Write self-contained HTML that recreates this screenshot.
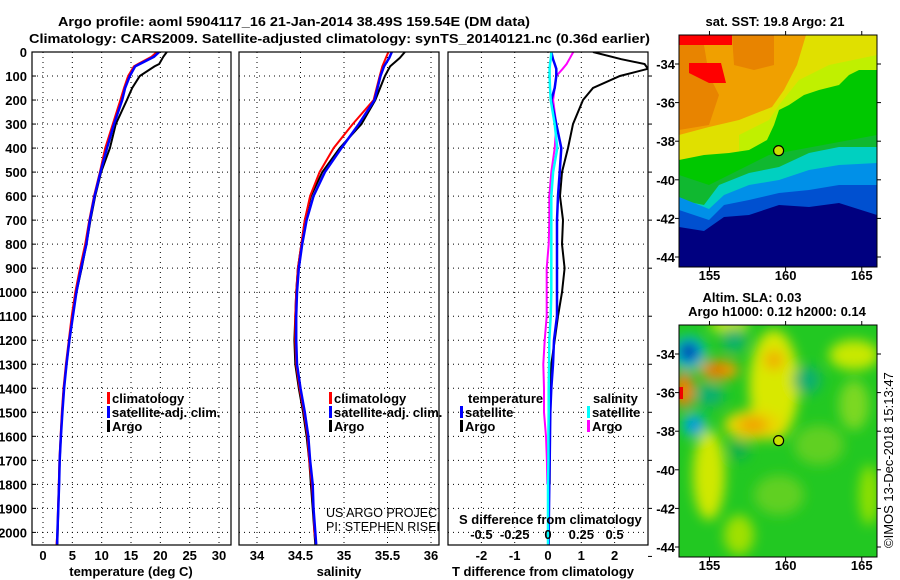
<!DOCTYPE html>
<html><head><meta charset="utf-8">
<style>
html,body{margin:0;padding:0;background:#fff;}
svg{display:block;font-family:"Liberation Sans",sans-serif;}
.b{font-weight:bold;font-size:13px;fill:#000;}
.grid{stroke:#000;stroke-width:1;stroke-dasharray:1,4;}
</style></head>
<body>
<svg id="chart" width="900" height="580" viewBox="0 0 900 580" xmlns="http://www.w3.org/2000/svg">
<rect width="900" height="580" fill="#fff"/>
<text class="b" x="58" y="26" font-size="15.5" textLength="472" lengthAdjust="spacingAndGlyphs">Argo profile: aoml 5904117_16 21-Jan-2014 38.49S 159.54E (DM data)</text>
<text class="b" x="29" y="43" font-size="15.5" textLength="621" lengthAdjust="spacingAndGlyphs">Climatology: CARS2009. Satellite-adjusted climatology: synTS_20140121.nc (0.36d earlier)</text>
<g id="panels"></g>
<g id="maps"></g>
<text x="893" y="548" font-size="13" transform="rotate(-90 893 548)" fill="#000">©IMOS 13-Dec-2018 15:13:47</text>
</svg>
<script>
// ---- data ----
const depthT = [0,20,50,60,100,150,200,300,400,500,600,700,800,900,1000,1100,1200,1300,1400,1500,1600,1700,1800,1900,2000,2050];
const tempClim = [19.4,18.5,16.2,15.5,14.5,13.8,13.2,11.9,10.6,9.7,8.7,7.9,7.2,6.3,5.5,4.9,4.4,3.9,3.5,3.2,3.0,2.8,2.7,2.55,2.45,2.3];
const tempSat  = [19.8,18.9,16.5,15.7,14.8,14.0,13.5,12.1,10.9,9.8,8.8,8.0,7.4,6.5,5.7,5.1,4.5,4.0,3.6,3.3,3.05,2.85,2.75,2.6,2.45,2.4];
const tempArgo = [21.1,20.5,19.8,19.0,16.5,15.2,14.3,12.4,11.4,9.9,8.9,8.1,7.4,6.6,5.7,5.0,4.5,4.0,3.55,3.25,3.05,2.85,2.75,2.6,2.5,2.45];
const salClim = [35.51,35.48,35.44,35.41,35.34,35.10,34.88,34.72,34.61,34.55,34.51,34.47,34.45,34.44,34.44,34.45,34.49,34.54,34.58,34.60,34.63,34.65,34.66,34.68];
const salSat  = [35.55,35.52,35.46,35.42,35.35,35.17,34.97,34.78,34.65,34.57,34.52,34.48,34.46,34.45,34.45,34.46,34.50,34.55,34.59,34.61,34.64,34.65,34.67,34.68];
const salArgo = [35.70,35.64,35.53,35.47,35.36,35.20,34.95,34.75,34.62,34.55,34.51,34.47,34.45,34.44,34.43,34.44,34.48,34.53,34.57,34.60,34.62,34.64,34.66,34.67];
const depthS = [0,25,60,100,200,300,400,500,600,700,800,900,1000,1100,1200,1300,1400,1500,1600,1700,1800,1900,2000,2050];
const depthD = [0,30,50,70,100,150,200,300,400,500,600,700,800,900,1000,1100,1200,1300,1400,1500,1600,1700,1800,1900,2000,2050];
const dTArgo = [1.35,2.2,2.9,3.0,2.16,1.35,1.05,0.75,0.6,0.42,0.36,0.45,0.42,0.5,0.42,0.3,0.2,0.1,0.05,0.05,0.05,0.05,0.05,null,null,null];
const dTSat  = [0.1,0.15,0.2,0.25,0.25,0.2,0.1,0.25,0.4,0.35,0.3,0.27,0.27,0.27,0.27,0.27,0.18,0.15,0.1,0.07,0.06,0.05,0.04,0.03,0.02,0.02];
const dSSat  = [0.025,0.02,0.015,0.012,0.012,0.015,0.02,0.05,0.07,0.038,0.025,0.025,0.025,0.025,0.025,0.02,0.01,0.008,0.005,0.005,0.003,0.003,0.0,0.0,0.0,0.0];
const dSArgo = [0.19,0.16,0.14,0.11,0.062,0.05,0.038,0.062,0.05,0.025,0.01,0.01,0.005,-0.01,-0.01,-0.01,-0.025,-0.035,-0.03,-0.03,-0.015,-0.008,-0.005,null,null,null];
const depthTicks = [0,100,200,300,400,500,600,700,800,900,1000,1100,1200,1300,1400,1500,1600,1700,1800,1900,2000];
const tempTicks = [0,5,10,15,20,25,30];
const salTicks = [34,34.5,35,35.5,36];
const salTickLabels = ["34","34.5","35","35.5","36"];
const dTTicks = [-2,-1,0,1,2];
const dSTicks = [-0.5,-0.25,0,0.25,0.5];
const dSTickLabels = ["-0.5","-0.25","0","0.25","0.5"];
const lonTicks = [155,160,165];
const latTicks = [-34,-36,-38,-40,-42,-44];
const argoLon = 159.54, argoLat = -38.49;

const NS = "http://www.w3.org/2000/svg";
function mk(tag, attrs, parent){const e=document.createElementNS(NS,tag);for(const k in attrs)e.setAttribute(k,attrs[k]);parent.appendChild(e);return e;}

const TOP=52, BOT=545;
function dy(d){return 52 + d*0.2402;}
function tx(t){return 43 + (t-0)*5.867;}
function sx(s){return 257 + (s-34)*87;}
function dx(v){return 548 + v*33.3;}
function dsx(v){return dx(v*4);}

const P = document.getElementById('panels');
const panels = [
 {name:'temperature-panel', x0:32, x1:231},
 {name:'salinity-panel', x0:239, x1:439},
 {name:'difference-panel', x0:448, x1:648}
];
panels.forEach((p,i)=>{
  const g = mk('g',{},P);
  
  
  const cp = mk('clipPath',{id:'cp'+i},g);
  mk('rect',{x:p.x0,y:TOP,width:p.x1-p.x0,height:BOT-TOP},cp);
  depthTicks.forEach(d=>{ if(d>0){const l=mk('line',{x1:p.x0,x2:p.x1,y1:dy(d),y2:dy(d),class:'grid'},g);
    
    }});
  p.g=g;
});
depthTicks.forEach(d=>{
  const t=mk('text',{x:27,y:dy(d)+5,'text-anchor':'end',class:'b'},P);
  
  
  t.textContent=d;
  mk('line',{x1:32,x2:36,y1:dy(d),y2:dy(d),stroke:'#000'},P);
});
function vgrid(g,xs){xs.forEach(x=>{const l=mk('line',{x1:x,x2:x,y1:TOP,y2:BOT,class:'grid'},g);
  
  });}
function xlabels(vals,labels,fx,y){vals.forEach((v,i)=>{const t=mk('text',{x:fx(v),y:y,'text-anchor':'middle',class:'b'},P);
  
  
  t.textContent=labels[i];});}
vgrid(panels[0].g, tempTicks.map(tx));
vgrid(panels[1].g, salTicks.map(sx));
vgrid(panels[2].g, dTTicks.map(dx));
xlabels(tempTicks,tempTicks.map(String),tx,560);
xlabels(salTicks,salTickLabels,sx,560);
xlabels(dTTicks,dTTicks.map(String),dx,560);

function line(g,vals,depths,fx,color,name,clip,w){
  let pts=[];
  vals.forEach((v,i)=>{ if(v!==null) pts.push(fx(v).toFixed(1)+','+dy(depths[i]).toFixed(1)); });
  const pl=mk('polyline',{points:pts.join(' '),fill:'none',stroke:color,'stroke-width':w||2,'clip-path':'url(#cp'+clip+')'},g);
  
  
}
const g0=panels[0].g,g1=panels[1].g,g2=panels[2].g;
line(g0,tempArgo,depthT,tx,'#000','temp-argo-line',0);
line(g0,tempClim,depthT,tx,'#f00','temp-climatology-line',0);
line(g0,tempSat,depthT,tx,'#00f','temp-satellite-line',0,2.5);
line(g1,salArgo,depthS,sx,'#000','sal-argo-line',1);
line(g1,salClim,depthS,sx,'#f00','sal-climatology-line',1);
line(g1,salSat,depthS,sx,'#00f','sal-satellite-line',1,2.5);
line(g2,dTArgo,depthD,dx,'#000','dT-argo-line',2);
line(g2,dSArgo,depthD,dsx,'#f0f','dS-argo-line',2);
line(g2,dTSat,depthD,dx,'#00f','dT-satellite-line',2,2.5);
line(g2,dSSat,depthD,dsx,'#0ff','dS-satellite-line',2,2.5);
panels.forEach(p=>{mk('rect',{x:p.x0,y:TOP,width:p.x1-p.x0,height:BOT-TOP,fill:'none',stroke:'#000','stroke-width':1.2},p.g);});
depthTicks.forEach(d=>{ if(d%200==0) mk('line',{x1:648,x2:652,y1:dy(d+100),y2:dy(d+100),stroke:'#000'},P);});
const st=mk('text',{x:459,y:524,class:'b'},P);


st.textContent='S difference from climatology';
dSTicks.forEach((v,i)=>{const t=mk('text',{x:dsx(v),y:539,'text-anchor':'middle',class:'b'},P);
  
  
  t.textContent=dSTickLabels[i];});
[['temperature (deg C)',131,'temperature-axis-title'],['salinity',339,'salinity-axis-title'],['T difference from climatology',543,'t-diff-axis-title']].forEach(a=>{
  const t=mk('text',{x:a[1],y:576,'text-anchor':'middle',class:'b'},P);
  
  
  t.textContent=a[0];});
function leg(x,y,color,label,name){
  const g=mk('g',{},P);
  
  
  mk('rect',{x:x,y:y-11,width:3,height:12,fill:color},g);
  const t=mk('text',{x:x+5,y:y,class:'b'},g);t.textContent=label;
}
leg(107,403,'#f00','climatology','legend-climatology');
leg(107,417,'#00f','satellite-adj. clim.','legend-satellite-adj');
leg(107,431,'#000','Argo','legend-argo');
leg(329,403,'#f00','climatology','legend-sal-climatology');
leg(329,417,'#00f','satellite-adj. clim.','legend-sal-satellite-adj');
leg(329,431,'#000','Argo','legend-sal-argo');
const lt=mk('text',{x:468,y:403,class:'b'},P);lt.textContent='temperature';


leg(460,417,'#00f','satellite','legend-dT-satellite');
leg(460,431,'#000','Argo','legend-dT-argo');
const ls=mk('text',{x:593,y:403,class:'b'},P);ls.textContent='salinity';


leg(587,417,'#0ff','satellite','legend-dS-satellite');
leg(587,431,'#f0f','Argo','legend-dS-argo');
const cp1=mk('clipPath',{id:'credclip'},P);mk('rect',{x:239,y:490,width:200,height:50},cp1);
const cg=mk('g',{'clip-path':'url(#credclip)'},P);


const c1=mk('text',{x:326,y:517,'font-size':'12.5',fill:'#000'},cg);c1.textContent='US ARGO PROJECT';
const c2=mk('text',{x:326,y:531,'font-size':'12.5',fill:'#000'},cg);c2.textContent='PI: STEPHEN RISER';

// ---- maps ----
const M=document.getElementById('maps');
const MX0=679,MX1=877;
function lonX(l){return 679 + (l-153)*15.23;}
function latY(l,top){return top + 29 + (-34-l)*19.3;}
function mapFrame(top,name,draw){
  const g=mk('g',{},M);
  
  
  const cid='mc'+top;
  const c=mk('clipPath',{id:cid},g);mk('rect',{x:MX0,y:top,width:198,height:232},c);
  const inner=mk('g',{'clip-path':'url(#'+cid+')'},g);
  const tg=mk('g',{transform:'translate('+MX0+','+top+')'},inner);
  draw(tg);
  mk('rect',{x:MX0,y:top,width:198,height:232,fill:'none',stroke:'#000','stroke-width':1},g);
  lonTicks.forEach(l=>{mk('line',{x1:lonX(l),x2:lonX(l),y1:top,y2:top-4,stroke:'#000'},g);
    mk('line',{x1:lonX(l),x2:lonX(l),y1:top+232,y2:top+236,stroke:'#000'},g);
    const t=mk('text',{x:lonX(l),y:top+245,'text-anchor':'middle',class:'b'},g);
    
    
    t.textContent=l;});
  latTicks.forEach(l=>{mk('line',{x1:MX0,x2:MX0-4,y1:latY(l,top),y2:latY(l,top),stroke:'#000'},g);
    mk('line',{x1:MX1,x2:MX1+4,y1:latY(l,top),y2:latY(l,top),stroke:'#000'},g);
    const t=mk('text',{x:675,y:latY(l,top)+5,'text-anchor':'end',class:'b'},g);
    
    
    t.textContent=l;});
  const cc=mk('circle',{cx:lonX(argoLon),cy:latY(argoLat,top),r:5,fill:'#c8e000',stroke:'#000','stroke-width':1.2},g);
  
  
}
function poly(g,pts,fill){mk('polygon',{points:pts,fill:fill},g);}
mapFrame(35,'sst-map',g=>{
  poly(g,'0,0 198,0 198,232 0,232','#f0a000');
  poly(g,'0,10 25,10 30,40 40,60 30,90 0,95','#e88400');
  poly(g,'53,0 95,0 95,30 75,35 55,30','#e88400');
  poly(g,'0,0 53,0 53,10 0,10','#ff0000');
  poly(g,'10,28 42,28 47,48 30,48 10,38','#ff0000');
  poly(g,'0,100 30,92 60,85 93,72 105,55 118,30 127,0 198,0 198,232 0,232','#e0e000');
  poly(g,'60,100 90,85 100,70 120,45 150,30 198,20 198,232 60,232','#c0f000');
  poly(g,'0,125 25,120 50,118 70,115 88,105 95,90 100,75 110,70 125,60 140,55 160,50 170,40 180,35 198,35 198,232 0,232','#00c800');
  poly(g,'0,140 30,150 60,135 90,120 198,100 198,232 0,232','#10b830');
  poly(g,'0,165 25,170 40,150 70,138 100,132 130,118 160,112 198,112 198,232 0,232','#00d0c0');
  poly(g,'0,162 30,174 45,160 70,150 100,145 130,135 160,130 198,128 198,232 0,232','#0090e8');
  poly(g,'0,175 30,185 45,170 70,165 100,158 130,155 160,150 198,150 198,232 0,232','#0050d0');
  poly(g,'0,192 25,196 45,182 70,180 100,170 130,172 160,168 198,180 198,232 0,232','#000080');
});
mapFrame(325,'sla-map',g=>{
  const f=mk('filter',{id:'bl',x:'-50%',y:'-50%',width:'200%',height:'200%'},g);
  mk('feGaussianBlur',{stdDeviation:6},f);
  mk('rect',{x:0,y:0,width:198,height:232,fill:'#22c822'},g);
  const b=mk('g',{filter:'url(#bl)'},g);
  const E=(cx,cy,rx,ry,c)=>mk('ellipse',{cx:cx,cy:cy,rx:rx,ry:ry,fill:c},b);
  E(95,60,25,55,'#d8e800');E(75,100,30,15,'#e8d800');E(30,150,16,45,'#d0e800');
  E(175,30,25,15,'#c8e800');E(175,80,15,25,'#7cd820');E(140,120,25,20,'#60d020');
  E(100,170,25,20,'#60d020');E(60,210,15,20,'#a0e000');E(190,170,10,30,'#90e000');
  E(50,0,20,8,'#c8e800');
  E(40,45,20,10,'#f0a000');E(37,45,10,5,'#d86000');
  E(74,100,15,8,'#f0a000');E(95,35,10,10,'#f0b000');
  E(5,65,10,18,'#f08000');
  E(10,28,17,17,'#00c0d0');E(10,27,10,10,'#0040c0');E(8,26,5,5,'#001890');
  E(15,100,12,12,'#00c0d0');E(15,100,6,6,'#0070e0');
  E(128,55,14,14,'#10b070');E(55,15,12,12,'#10b070');E(30,70,15,12,'#10b070');
  E(60,125,10,10,'#10b050');
  mk('rect',{x:0,y:62,width:4,height:12,fill:'#f00000'},g);
});
[['sat. SST: 19.8 Argo: 21',775,26,'sst-map-title'],['Altim. SLA: 0.03',752,302,'sla-title'],['Argo h1000: 0.12 h2000: 0.14',777,316,'sla-argo-title']].forEach(a=>{
  const t=mk('text',{x:a[1],y:a[2],'text-anchor':'middle',class:'b'},M);
  
  
  t.textContent=a[0];});
</script>
</body></html>
